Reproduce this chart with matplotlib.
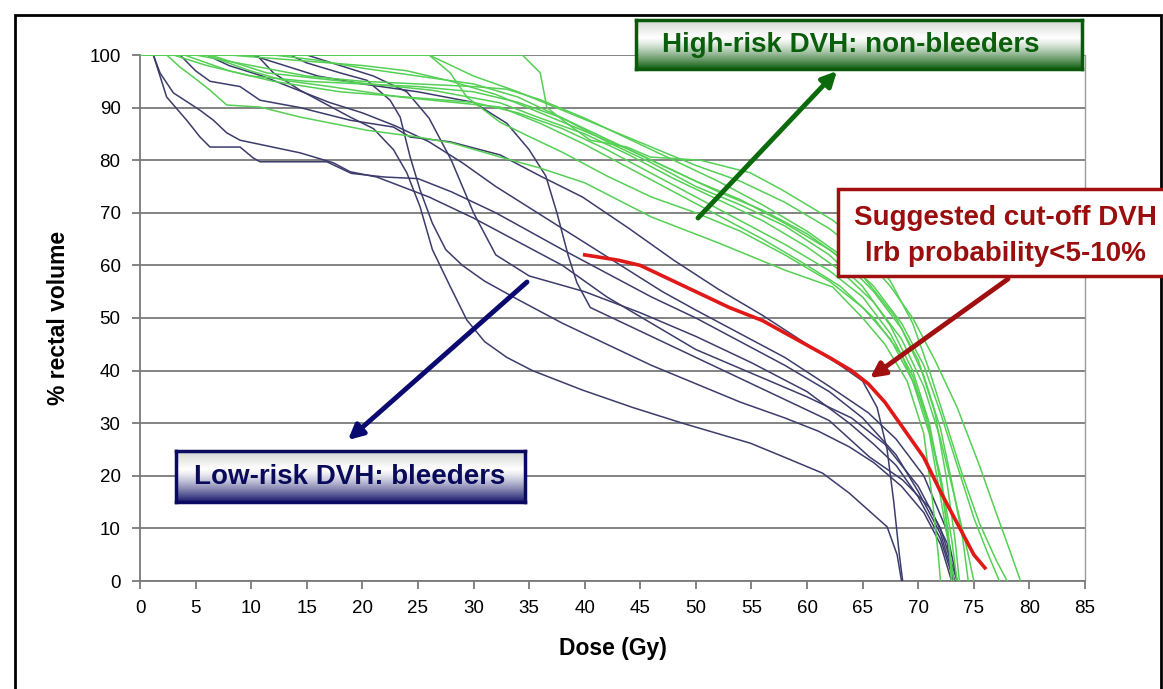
import numpy as np
import matplotlib
matplotlib.use("Agg")
import matplotlib.pyplot as plt
from matplotlib.patches import Rectangle

plt.rcParams['font.family'] = ['Liberation Sans', 'DejaVu Sans']

# ---------------- data ----------------
x_ticks = [0, 5, 10, 15, 20, 25, 30, 35, 40, 45, 50, 55, 60, 65, 70, 75, 80, 85]
y_ticks = [0, 10, 20, 30, 40, 50, 60, 70, 80, 90, 100]

# Low-risk DVH (bleeders) - navy
navy_a_dose = [1.2, 2.4, 4.2, 5.4, 6.3, 9, 10.2, 10.8, 16.8, 18, 19, 22, 25, 28, 32, 35, 38, 42, 46, 50, 54, 58, 62, 65, 68, 70, 72, 73.3]
navy_a_vol = [100, 92, 87.6, 84.4, 82.5, 82.5, 80.4, 79.7, 79.7, 78.5, 77.5, 76.8, 76.5, 74, 70, 66.5, 63, 58.5, 54, 50, 45.5, 41, 36, 31, 24, 17, 9, 0]
navy_b_dose = [1.2, 1.8, 3, 5.4, 6.6, 7.8, 9, 14.4, 17.4, 18.9, 21.3, 26, 30, 34, 38, 42, 46, 50, 55, 60, 64, 67, 70, 72, 73.5]
navy_b_vol = [100, 96.6, 92.8, 89.5, 87.6, 85.2, 83.8, 81.4, 79.5, 77.8, 76.8, 73, 69, 64.5, 60, 54, 49, 44, 39.5, 35, 31, 26, 18, 10, 0]
navy_c_dose = [3.6, 5, 6.3, 9, 10.8, 14.4, 18.9, 22.8, 24.3, 27.9, 32.4, 36, 39.8, 44, 48, 52, 56, 60, 63, 65, 66.3, 67.2, 67.8, 68.3, 68.6]
navy_c_vol = [100, 97, 95, 94, 91.4, 90, 87.6, 86.3, 84.4, 83.5, 81, 77, 73, 67, 61, 55.5, 50.5, 45, 41, 38, 33, 25, 15, 5, 0]
navy_d_dose = [10.5, 12, 14.4, 18.9, 21, 22.8, 24, 25.2, 26.3, 27.9, 29.4, 31, 33, 35.3, 39.8, 44.3, 48.8, 54.9, 58, 61.4, 63.8, 65.5, 67.2, 68.1, 68.5]
navy_d_vol = [100, 96.6, 93.3, 88.2, 86, 82, 77.6, 71.1, 63, 56, 49.6, 45.5, 42.5, 40, 36.3, 33, 30, 26.2, 23.5, 20.5, 16.7, 13.5, 10.3, 5, 0]
navy_e_dose = [13.5, 15, 18, 20.4, 22.5, 23.4, 24.3, 25.2, 26.3, 27.5, 29, 31, 34, 38, 42, 46, 50, 54, 58, 61, 63.8, 66, 68.5, 70.5, 72, 73]
navy_e_vol = [100, 98.5, 96.6, 95.2, 91.4, 88.2, 80.6, 74.3, 68, 63, 60, 57, 53.5, 49, 45, 41, 37.5, 34, 31, 28.5, 25.5, 22.5, 18, 13, 7, 0]
navy_f_dose = [10, 13, 16, 20, 25, 30, 33, 35, 36.5, 37.5, 38.5, 39.3, 40.5, 42.9, 46, 50, 54, 58, 62, 65.6, 68.6, 71, 72.6, 73.1]
navy_f_vol = [100, 98, 96, 94.5, 93, 91, 87, 82, 77, 70, 62, 56.7, 52, 49.6, 46.5, 42.5, 38.5, 34.5, 30.5, 23.6, 19.2, 14, 7.2, 0]
navy_g_dose = [6, 8, 11, 14, 17, 20, 23, 26, 29, 32, 35, 38, 41, 44, 47, 50, 54, 58, 62, 65.5, 68, 70.5, 72.5, 73.5]
navy_g_vol = [100, 98, 96, 93.5, 91, 89, 86.5, 83.5, 79.5, 75, 71, 67, 63, 59, 55, 51.5, 47, 42.5, 37, 32, 27, 20, 10, 0]
navy_h_dose = [15, 18, 21, 24, 26, 28, 30, 32, 35, 40, 45, 50, 55, 60, 63.8, 66, 68, 70, 72, 73.2]
navy_h_vol = [100, 98, 96, 93, 88, 80, 70, 62, 58, 55, 51, 46.5, 41.5, 36, 30, 26, 22, 16, 8, 0]

# High-risk DVH (non-bleeders) - green
green_1_dose = [2.4, 3.6, 4.8, 6.3, 7.8, 10.8, 14.4, 20.4, 25, 28, 32.4, 36, 40, 46, 52, 58, 62.3, 65, 67, 69, 70.5, 71.3, 71.8, 72]
green_1_vol = [100, 97.7, 95.8, 93.3, 90.5, 90.1, 88.2, 85.7, 84.4, 83.3, 80.6, 78.5, 75.7, 69.2, 64.3, 59.1, 55.9, 50, 45, 38, 28, 15, 5, 0]
green_2_dose = [6, 9.9, 12.9, 17.4, 23.4, 26.3, 32.4, 36, 40, 44, 48, 52, 56, 60, 63, 66, 68.5, 70.5, 72, 73, 73.5]
green_2_vol = [100, 97, 95.2, 93.9, 92, 91.4, 90.1, 87, 83, 78.5, 74, 69.5, 65, 60, 56, 50, 43, 33, 20, 8, 0]
green_3_dose = [6.3, 11.4, 17.4, 26.3, 32.4, 36, 40, 44, 48, 52, 56, 60, 63, 66, 68.5, 70.5, 72, 73.5, 74.5, 75]
green_3_vol = [100, 96.6, 95.2, 93.3, 90.9, 88, 85, 81, 76.5, 72.5, 68.5, 63.5, 59, 53, 46, 37, 27, 14, 5, 0]
green_4_dose = [0, 26, 27.9, 29.4, 32.4, 35, 38, 42, 46, 50, 54, 58, 62, 65, 67.5, 69.5, 71, 72, 72.8, 73.2]
green_4_vol = [100, 100, 96.6, 92, 87.2, 84.5, 81.5, 77, 73, 70, 66.5, 62, 57, 52, 46, 38, 28, 16, 6, 0]
green_5_dose = [0, 34.4, 36, 36.6, 38.4, 40.5, 43.8, 45.9, 50.4, 54.9, 57.8, 62.3, 65, 67.5, 69.5, 71, 72.5, 74, 75.5, 77, 78]
green_5_vol = [100, 100, 96.6, 90, 87, 83.8, 82.5, 80.6, 80, 77.6, 74.3, 68.6, 64, 57, 49, 40, 30, 20, 11, 4, 0]
green_6_dose = [3, 6, 10, 15, 20, 25, 30, 34, 38, 42, 46, 50, 54, 58, 62, 65, 68, 70, 71.5, 72.5, 73.3, 73.7]
green_6_vol = [100, 98, 96, 95, 94.5, 94, 93, 91, 88, 84, 80, 76, 72.5, 68, 63, 58, 50, 42, 32, 20, 8, 0]
green_7_dose = [5, 10, 15, 20, 25, 30, 33, 36, 40, 44, 48, 52, 56, 60, 63, 66, 68.5, 70.5, 72, 73.5, 75, 76.3, 77.3]
green_7_vol = [100, 98, 96, 95, 94.5, 94, 93.5, 91.5, 88, 84, 80, 76, 71.5, 66.5, 62, 56, 49, 41, 32, 22, 12, 5, 0]
green_8_dose = [8, 14, 20, 24, 28, 32, 36, 40, 44, 48, 52, 56, 60, 63, 66, 68.5, 70.5, 72, 73, 74, 74.5]
green_8_vol = [100, 99, 98, 97, 95, 92.5, 89, 85.5, 82, 78, 74, 70.5, 66, 61.5, 55, 48, 39, 29, 19, 8, 0]
green_9_dose = [12, 16, 20, 25, 30, 34, 38, 42, 46, 50, 54, 58, 62, 65, 67.5, 69.5, 71, 72, 72.7, 73]
green_9_vol = [100, 99, 97.5, 96, 94.5, 92, 88, 83.5, 79.5, 75, 71.5, 67.5, 62, 56, 48.5, 40, 30, 19, 9, 0]
green_10_dose = [18, 26, 28, 30, 34, 38, 42, 46, 50, 54, 58, 62, 65, 67.5, 69.5, 71.5, 73.5, 75.5, 77, 78.2, 79.2]
green_10_vol = [100, 100, 98, 96, 93, 89.5, 86, 82.5, 79, 76, 72, 67, 62, 56, 50, 42, 33, 22, 13, 6, 0]
green_11_dose = [4, 8, 12, 18, 24, 30, 34, 38, 42, 46, 50, 54, 58, 62, 65, 67.5, 69.5, 71, 72.2, 72.8, 73]
green_11_vol = [100, 97, 95, 93, 92, 91, 89, 86, 82, 77.5, 73, 68.5, 64, 59, 54, 47, 39, 29, 17, 7, 0]

# Suggested cut-off DVH - red
cutoff_dose = [40, 43, 45, 47, 50, 53, 56, 59, 62, 64, 65.5, 67, 69, 70.5, 72, 73.5, 75, 76]
cutoff_vol = [62, 61, 60, 58, 55, 52, 49.5, 46, 42.5, 40, 37.5, 34, 28, 23.5, 17, 11, 5, 2.5]

navy_curves = [(navy_a_dose, navy_a_vol), (navy_b_dose, navy_b_vol), (navy_c_dose, navy_c_vol),
               (navy_d_dose, navy_d_vol), (navy_e_dose, navy_e_vol), (navy_f_dose, navy_f_vol),
               (navy_g_dose, navy_g_vol), (navy_h_dose, navy_h_vol)]
green_curves = [(green_1_dose, green_1_vol), (green_2_dose, green_2_vol), (green_3_dose, green_3_vol),
                (green_4_dose, green_4_vol), (green_5_dose, green_5_vol), (green_6_dose, green_6_vol),
                (green_7_dose, green_7_vol), (green_8_dose, green_8_vol), (green_9_dose, green_9_vol),
                (green_10_dose, green_10_vol), (green_11_dose, green_11_vol)]

# ---------------- figure ----------------
W, H = 1163, 689
fig = plt.figure(figsize=(W / 100, H / 100), dpi=100)
fig.patch.set_facecolor('white')

def fx(px):
    return px / W

def fy(py):
    return 1 - py / H

ax = fig.add_axes([fx(140), fy(581), fx(1085) - fx(140), fy(55) - fy(581)])
ax.set_xlim(0, 85)
ax.set_ylim(0, 100)
ax.set_xticks(x_ticks)
ax.set_yticks(y_ticks)
ax.set_xticklabels([str(t) for t in x_ticks], fontsize=13.5)
ax.set_yticklabels([str(t) for t in y_ticks], fontsize=13.5)
ax.yaxis.grid(True, color='#7a7a7a', linewidth=1.3)
ax.set_axisbelow(True)
ax.spines['top'].set_visible(False)
ax.spines['right'].set_color('#9a9a9a')
ax.spines['right'].set_linewidth(1.0)
for s in ['left', 'bottom']:
    ax.spines[s].set_color('#7a7a7a')
    ax.spines[s].set_linewidth(1.3)
ax.tick_params(axis='both', direction='out', length=6, width=1.3, color='#7a7a7a', pad=8)

for d, v in navy_curves:
    ax.plot(d, v, color='#3c3c6c', linewidth=1.1, zorder=3)
for d, v in green_curves:
    ax.plot(d, v, color='#55d055', linewidth=1.1, zorder=3)
ax.plot(cutoff_dose, cutoff_vol, color='#e01818', linewidth=2.6, zorder=4)

ax.set_xlabel('Dose (Gy)', fontsize=16.5, fontweight='bold', labelpad=14)
ax.set_ylabel('% rectal volume', fontsize=16.5, fontweight='bold', labelpad=14)

# outer border of the slide
fig.patches.append(Rectangle((fx(15), fy(700)), fx(1161) - fx(15), fy(15) - fy(700),
                             transform=fig.transFigure, fill=False, edgecolor='black', linewidth=2, zorder=0))

def gradient_box(x0, y0, x1, y1, dark, edge):
    bax = fig.add_axes([fx(x0), fy(y1), fx(x1) - fx(x0), fy(y0) - fy(y1)])
    t = np.linspace(0, 1, 100)
    light = np.array([0.82, 0.84, 0.82])
    white = np.array([1.0, 1.0, 1.0])
    darkc = np.array(matplotlib.colors.to_rgb(dark))
    rows = []
    for v in t:
        if v < 0.35:
            c = light + (white - light) * (v / 0.35)
        else:
            c = white + (darkc - white) * ((v - 0.35) / 0.65) ** 1.3
        rows.append(c)
    img = np.array(rows)[:, None, :].repeat(2, axis=1)
    bax.imshow(img, aspect='auto', extent=[0, 1, 0, 1])
    bax.set_xticks([])
    bax.set_yticks([])
    for s in bax.spines.values():
        s.set_edgecolor(edge)
        s.set_linewidth(2.5)
    return bax

gradient_box(636, 20, 1082, 69, '#0f5f0f', '#0b5a0b')
fig.text(fx(851), fy(45), 'High-risk DVH: non-bleeders', fontsize=20, fontweight='bold',
         color='#0b5e0b', ha='center', va='center', zorder=10)

gradient_box(176, 451, 525, 502, '#1a1a6e', '#0a0a60')
fig.text(fx(350), fy(477), 'Low-risk DVH: bleeders', fontsize=20, fontweight='bold',
         color='#0a0a5a', ha='center', va='center', zorder=10)

fig.patches.append(Rectangle((fx(838), fy(276)), fx(1180) - fx(838), fy(189) - fy(276),
                             transform=fig.transFigure, facecolor='white', edgecolor='#a01010',
                             linewidth=2.5, zorder=5))
fig.text(fx(1005), fy(218), 'Suggested cut-off DVH', fontsize=20, fontweight='bold',
         color='#9a0e0e', ha='center', va='center', zorder=10)
fig.text(fx(1005), fy(254), 'lrb probability<5-10%', fontsize=20, fontweight='bold',
         color='#9a0e0e', ha='center', va='center', zorder=10)

def arrow(x0, y0, x1, y1, color):
    ax.annotate('', xy=(x1, H - y1), xycoords='figure pixels',
                xytext=(x0, H - y0), textcoords='figure pixels',
                arrowprops=dict(arrowstyle='-|>', color=color, lw=3.5, mutation_scale=22,
                                shrinkA=0, shrinkB=0), zorder=8, annotation_clip=False)

arrow(698, 218, 837, 71, '#0b6a0b')
arrow(527, 282, 348, 440, '#0a0a70')
arrow(1008, 279, 870, 378, '#a01010')

fig.savefig('out.png', dpi=100, facecolor='white')
